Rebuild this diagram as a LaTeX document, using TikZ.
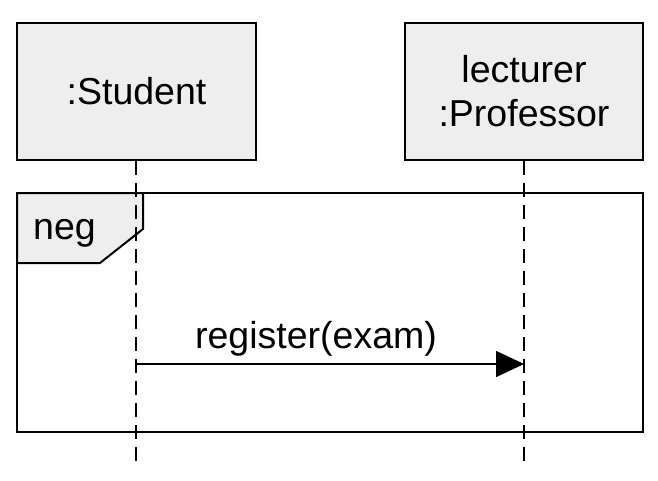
\documentclass[tikz,border=0pt]{standalone}
\usepackage{fontspec}
\setmainfont{Liberation Sans}
\usetikzlibrary{arrows.meta}
\definecolor{boxfill}{HTML}{EEEEEE}
\tikzset{
  lifebox/.style={draw=black, line width=2pt, fill=boxfill, minimum width=239pt, minimum height=137pt, inner sep=0pt, align=center, font=\fontsize{37.5}{44}\selectfont},
  lifeline/.style={draw=black, line width=1.6pt, dash pattern=on 14pt off 8pt},
  framestyle/.style={draw=black, line width=2pt},
  msg/.style={draw=black, line width=1.6pt, -{Triangle[length=28pt,width=26pt]}},
  lbl/.style={font=\fontsize{37.5}{44}\selectfont, inner sep=0pt}
}
\begin{document}
\begin{tikzpicture}[x=1pt,y=1pt]
\useasboundingbox (0,0) rectangle (658,480);
\node[lifebox] (student) at (136.5,388.5) {:Student};
\node[lifebox, minimum width=238pt] (prof) at (524,388.5) {lecturer\\:Professor};
\node[framestyle, minimum width=626pt, minimum height=239pt, inner sep=0pt] (frame) at (330,167.5) {};
\path[framestyle, fill=boxfill] (17,287) -- (143,287) -- (143,251) -- (100,217) -- (17,217) -- cycle;
\node[lbl, anchor=west] (neg) at (33,247) {neg};
\coordinate (send) at (136,116);
\coordinate (recv) at (524,116);
\coordinate (send end) at (136,15);
\coordinate (recv end) at (524,15);
\draw[lifeline] (student.south -| send) -- (send end);
\draw[lifeline] (prof.south -| recv) -- (recv end);
\draw[msg] (send) -- (recv);
\node[lbl] (msglabel) at (316,141) {register(exam)};
\end{tikzpicture}
\end{document}
